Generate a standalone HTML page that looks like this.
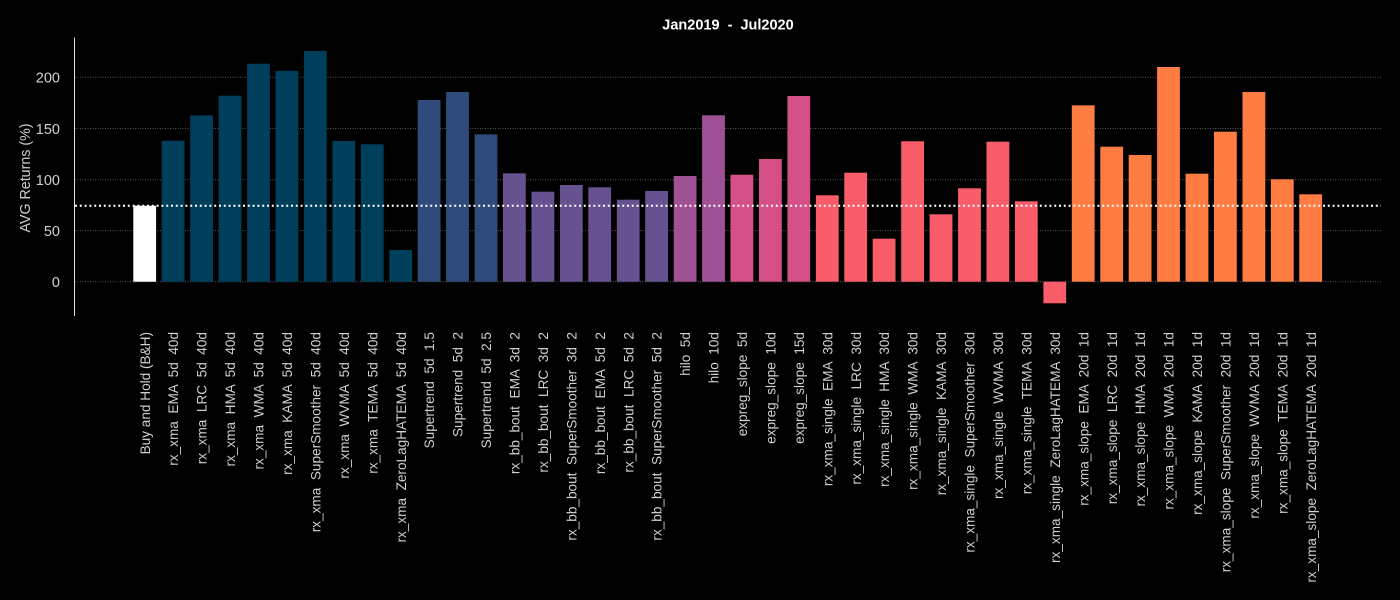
<!DOCTYPE html>
<html>
<head>
<meta charset="utf-8">
<style>
  html, body { margin:0; padding:0; background:#000; }
  svg { display:block; }
  text { font-family: "Liberation Sans", "DejaVu Sans", sans-serif; white-space: pre; }
  .xl { font-size:13.6px; fill:#d0d0d0; }
  .yl { font-size:14.5px; fill:#cfcfcf; }
</style>
</head>
<body>
<svg width="1400" height="600" viewBox="0 0 1400 600" xmlns="http://www.w3.org/2000/svg" xml:space="preserve">
  <rect x="0" y="0" width="1400" height="600" fill="#000"/>
  <!-- title -->
  <text x="728" y="29.5" text-anchor="middle" font-size="14.5" font-weight="bold" fill="#fff" style="font-weight:bold">Jan2019  -  Jul2020</text>

  <!-- gridlines -->
  <g stroke="#5a5a5a" stroke-width="1" stroke-dasharray="1 1.5">
    <line x1="75" y1="281.7" x2="1382" y2="281.7"/>
    <line x1="75" y1="230.6" x2="1382" y2="230.6"/>
    <line x1="75" y1="179.7" x2="1382" y2="179.7"/>
    <line x1="75" y1="128.5" x2="1382" y2="128.5"/>
    <line x1="75" y1="77.2" x2="1382" y2="77.2"/>
  </g>

  <!-- y spine -->
  <line x1="74.5" y1="37.5" x2="74.5" y2="316" stroke="#e0e0e0" stroke-width="1"/>

  <!-- y tick labels -->
  <g class="yl" text-anchor="end">
    <text x="60" y="287">0</text>
    <text x="60" y="236">50</text>
    <text x="60" y="185">100</text>
    <text x="60" y="133.8">150</text>
    <text x="60" y="82.5">200</text>
  </g>
  <text transform="translate(30,178) rotate(-90)" text-anchor="middle" font-size="14.5" fill="#cfcfcf" textLength="109" lengthAdjust="spacingAndGlyphs">AVG Returns (%)</text>

  <!-- bars -->
  <g>
    <rect x="133.3" y="205.7" width="22.8" height="76.0" fill="#ffffff"/>
    <rect x="161.7" y="140.7" width="22.8" height="141.0" fill="#003f5c"/>
    <rect x="190.2" y="115.3" width="22.8" height="166.4" fill="#003f5c"/>
    <rect x="218.6" y="95.7" width="22.8" height="186.0" fill="#003f5c"/>
    <rect x="247.1" y="63.7" width="22.8" height="218.0" fill="#003f5c"/>
    <rect x="275.5" y="70.8" width="22.8" height="210.9" fill="#003f5c"/>
    <rect x="303.9" y="51" width="22.8" height="230.7" fill="#003f5c"/>
    <rect x="332.4" y="141" width="22.8" height="140.7" fill="#003f5c"/>
    <rect x="360.8" y="144.3" width="22.8" height="137.4" fill="#003f5c"/>
    <rect x="389.3" y="250" width="22.8" height="31.7" fill="#003f5c"/>
    <rect x="417.7" y="100" width="22.8" height="181.7" fill="#2f4b7c"/>
    <rect x="446.1" y="92" width="22.8" height="189.7" fill="#2f4b7c"/>
    <rect x="474.6" y="134.3" width="22.8" height="147.4" fill="#2f4b7c"/>
    <rect x="503.0" y="173.3" width="22.8" height="108.4" fill="#665191"/>
    <rect x="531.5" y="191.7" width="22.8" height="90.0" fill="#665191"/>
    <rect x="559.9" y="185" width="22.8" height="96.7" fill="#665191"/>
    <rect x="588.3" y="187.3" width="22.8" height="94.4" fill="#665191"/>
    <rect x="616.8" y="199.7" width="22.8" height="82.0" fill="#665191"/>
    <rect x="645.2" y="191" width="22.8" height="90.7" fill="#665191"/>
    <rect x="673.7" y="176" width="22.8" height="105.7" fill="#a05195"/>
    <rect x="702.1" y="115.3" width="22.8" height="166.4" fill="#a05195"/>
    <rect x="730.5" y="174.7" width="22.8" height="107.0" fill="#d45087"/>
    <rect x="759.0" y="159" width="22.8" height="122.7" fill="#d45087"/>
    <rect x="787.4" y="96" width="22.8" height="185.7" fill="#d45087"/>
    <rect x="815.9" y="195.3" width="22.8" height="86.4" fill="#f95d6a"/>
    <rect x="844.3" y="172.7" width="22.8" height="109.0" fill="#f95d6a"/>
    <rect x="872.7" y="238.7" width="22.8" height="43.0" fill="#f95d6a"/>
    <rect x="901.2" y="141.3" width="22.8" height="140.4" fill="#f95d6a"/>
    <rect x="929.6" y="214.3" width="22.8" height="67.4" fill="#f95d6a"/>
    <rect x="958.1" y="188.3" width="22.8" height="93.4" fill="#f95d6a"/>
    <rect x="986.5" y="141.7" width="22.8" height="140.0" fill="#f95d6a"/>
    <rect x="1014.9" y="201.3" width="22.8" height="80.4" fill="#f95d6a"/>
    <rect x="1043.4" y="281.7" width="22.8" height="21.6" fill="#f95d6a"/>
    <rect x="1071.8" y="105.3" width="22.8" height="176.4" fill="#ff7c43"/>
    <rect x="1100.3" y="146.7" width="22.8" height="135.0" fill="#ff7c43"/>
    <rect x="1128.7" y="155" width="22.8" height="126.7" fill="#ff7c43"/>
    <rect x="1157.1" y="67" width="22.8" height="214.7" fill="#ff7c43"/>
    <rect x="1185.6" y="173.7" width="22.8" height="108.0" fill="#ff7c43"/>
    <rect x="1214.0" y="131.7" width="22.8" height="150.0" fill="#ff7c43"/>
    <rect x="1242.5" y="92" width="22.8" height="189.7" fill="#ff7c43"/>
    <rect x="1270.9" y="179.3" width="22.8" height="102.4" fill="#ff7c43"/>
    <rect x="1299.3" y="194.3" width="22.8" height="87.4" fill="#ff7c43"/>
  </g>

  <!-- B&H reference line -->
  <line x1="75" y1="205.7" x2="1381" y2="205.7" stroke="#ffffff" stroke-width="2" stroke-dasharray="2 2.8"/>

  <!-- x tick labels -->
  <g class="xl" text-anchor="end">
    <text transform="translate(149.8,332) rotate(-90)">Buy and Hold (B&amp;H)</text>
    <text transform="translate(178.2,332) rotate(-90)">rx_xma  EMA  5d  40d</text>
    <text transform="translate(206.7,332) rotate(-90)">rx_xma  LRC  5d  40d</text>
    <text transform="translate(235.1,332) rotate(-90)">rx_xma  HMA  5d  40d</text>
    <text transform="translate(263.6,332) rotate(-90)">rx_xma  WMA  5d  40d</text>
    <text transform="translate(292.0,332) rotate(-90)">rx_xma  KAMA  5d  40d</text>
    <text transform="translate(320.4,332) rotate(-90)">rx_xma  SuperSmoother  5d  40d</text>
    <text transform="translate(348.9,332) rotate(-90)">rx_xma  WVMA  5d  40d</text>
    <text transform="translate(377.3,332) rotate(-90)">rx_xma  TEMA  5d  40d</text>
    <text transform="translate(405.8,332) rotate(-90)">rx_xma  ZeroLagHATEMA  5d  40d</text>
    <text transform="translate(434.2,332) rotate(-90)">Supertrend  5d  1.5</text>
    <text transform="translate(462.6,332) rotate(-90)">Supertrend  5d  2</text>
    <text transform="translate(491.1,332) rotate(-90)">Supertrend  5d  2.5</text>
    <text transform="translate(519.5,332) rotate(-90)">rx_bb_bout  EMA  3d  2</text>
    <text transform="translate(548.0,332) rotate(-90)">rx_bb_bout  LRC  3d  2</text>
    <text transform="translate(576.4,332) rotate(-90)">rx_bb_bout  SuperSmoother  3d  2</text>
    <text transform="translate(604.8,332) rotate(-90)">rx_bb_bout  EMA  5d  2</text>
    <text transform="translate(633.3,332) rotate(-90)">rx_bb_bout  LRC  5d  2</text>
    <text transform="translate(661.7,332) rotate(-90)">rx_bb_bout  SuperSmoother  5d  2</text>
    <text transform="translate(690.2,332) rotate(-90)">hilo  5d</text>
    <text transform="translate(718.6,332) rotate(-90)">hilo  10d</text>
    <text transform="translate(747.0,332) rotate(-90)">expreg_slope  5d</text>
    <text transform="translate(775.5,332) rotate(-90)">expreg_slope  10d</text>
    <text transform="translate(803.9,332) rotate(-90)">expreg_slope  15d</text>
    <text transform="translate(832.4,332) rotate(-90)">rx_xma_single  EMA  30d</text>
    <text transform="translate(860.8,332) rotate(-90)">rx_xma_single  LRC  30d</text>
    <text transform="translate(889.2,332) rotate(-90)">rx_xma_single  HMA  30d</text>
    <text transform="translate(917.7,332) rotate(-90)">rx_xma_single  WMA  30d</text>
    <text transform="translate(946.1,332) rotate(-90)">rx_xma_single  KAMA  30d</text>
    <text transform="translate(974.6,332) rotate(-90)">rx_xma_single  SuperSmoother  30d</text>
    <text transform="translate(1003.0,332) rotate(-90)">rx_xma_single  WVMA  30d</text>
    <text transform="translate(1031.4,332) rotate(-90)">rx_xma_single  TEMA  30d</text>
    <text transform="translate(1059.9,332) rotate(-90)">rx_xma_single  ZeroLagHATEMA  30d</text>
    <text transform="translate(1088.3,332) rotate(-90)">rx_xma_slope  EMA  20d  1d</text>
    <text transform="translate(1116.8,332) rotate(-90)">rx_xma_slope  LRC  20d  1d</text>
    <text transform="translate(1145.2,332) rotate(-90)">rx_xma_slope  HMA  20d  1d</text>
    <text transform="translate(1173.6,332) rotate(-90)">rx_xma_slope  WMA  20d  1d</text>
    <text transform="translate(1202.1,332) rotate(-90)">rx_xma_slope  KAMA  20d  1d</text>
    <text transform="translate(1230.5,332) rotate(-90)">rx_xma_slope  SuperSmoother  20d  1d</text>
    <text transform="translate(1259.0,332) rotate(-90)">rx_xma_slope  WVMA  20d  1d</text>
    <text transform="translate(1287.4,332) rotate(-90)">rx_xma_slope  TEMA  20d  1d</text>
    <text transform="translate(1315.8,332) rotate(-90)">rx_xma_slope  ZeroLagHATEMA  20d  1d</text>
  </g>
</svg>
</body>
</html>
